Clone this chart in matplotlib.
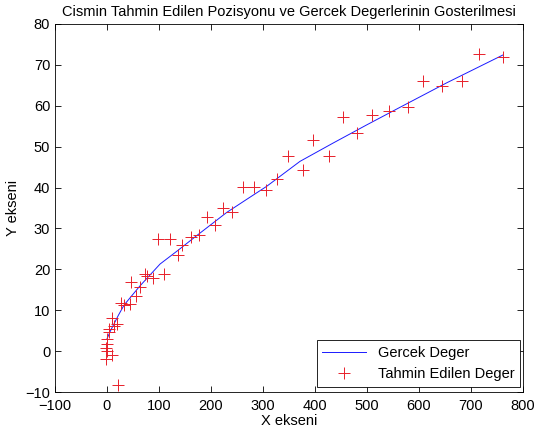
import matplotlib
matplotlib.use("Agg")
import matplotlib.pyplot as plt

# -------------------------------
# Data
# -------------------------------
true_x = [0, 6, 22, 33, 63, 102, 136, 172, 230, 272, 307, 371, 435, 499, 563, 653, 761]
true_y = [3.0, 4.8, 8.8, 11.3, 15.9, 21.3, 24.6, 28.2, 33.9, 37.4, 40.3, 46.4, 50.9, 55.3, 59.6, 65.6, 72.4]

est_x = [0, 0, -1, 0, -1, 10, 22, 4, 3, 9, 19, 14, 27, 33, 44,
         46, 56, 63, 73, 76, 89, 110, 99, 121, 136, 145, 162, 176, 192, 208,
         224, 241, 262, 283, 306, 326, 349, 376, 397, 426, 454, 480, 510, 542,
         578, 608, 644, 683, 716, 761]
est_y = [3.0, 1.7, 0.8, 0.0, -1.9, -0.9, -8.3, 5.5, 4.6, 8.2, 6.6, 6.1, 11.8, 11.3, 11.6,
         17.0, 13.6, 15.6, 18.9, 18.4, 17.8, 18.9, 27.4, 27.4, 23.6, 25.9, 28.0, 28.5, 32.8, 30.9,
         34.9, 34.1, 40.1, 40.2, 39.3, 42.1, 47.6, 44.3, 51.6, 47.8, 57.2, 53.3, 57.8, 58.7,
         59.6, 66.1, 64.9, 66.1, 72.7, 72.0]

plt.rcParams["font.family"] = ["Liberation Sans", "DejaVu Sans"]
plt.rcParams["font.size"] = 10

fig = plt.figure(figsize=(5.37, 4.41), dpi=100)
ax = fig.add_axes([0.1024, 0.111, 0.8716, 0.8346])

ax.plot(true_x, true_y, color="#1a1aff", lw=0.7, label="Gercek Deger")
ax.plot(est_x, est_y, ls="none", marker="+", color="#e8202a", ms=8, mew=0.7,
        label="Tahmin Edilen Deger")

ax.set_xlim(-100, 800)
ax.set_ylim(-10, 80)
ax.set_xticks(range(-100, 801, 100))
ax.set_yticks(range(-10, 81, 10))
ax.tick_params(direction="in", top=True, right=True, length=4, width=0.6, labelsize=10.5)
ax.tick_params(axis="x", pad=5)
for s in ax.spines.values():
    s.set_linewidth(0.6)

ax.set_title("Cismin Tahmin Edilen Pozisyonu ve Gercek Degerlerinin Gosterilmesi",
             fontsize=10.5, pad=6)
ax.set_xlabel("X ekseni", fontsize=10.5, labelpad=1)
ax.set_ylabel("Y ekseni", fontsize=10.5, labelpad=4)

leg = ax.legend(loc="lower right", bbox_to_anchor=(0.994, 0.015), borderaxespad=0,
                fancybox=False, edgecolor="black", framealpha=1,
                fontsize=10.5, handlelength=3.0, labelspacing=0.45)
leg.get_frame().set_linewidth(0.6)

plt.savefig("out.png", dpi=100)
plt.close()
